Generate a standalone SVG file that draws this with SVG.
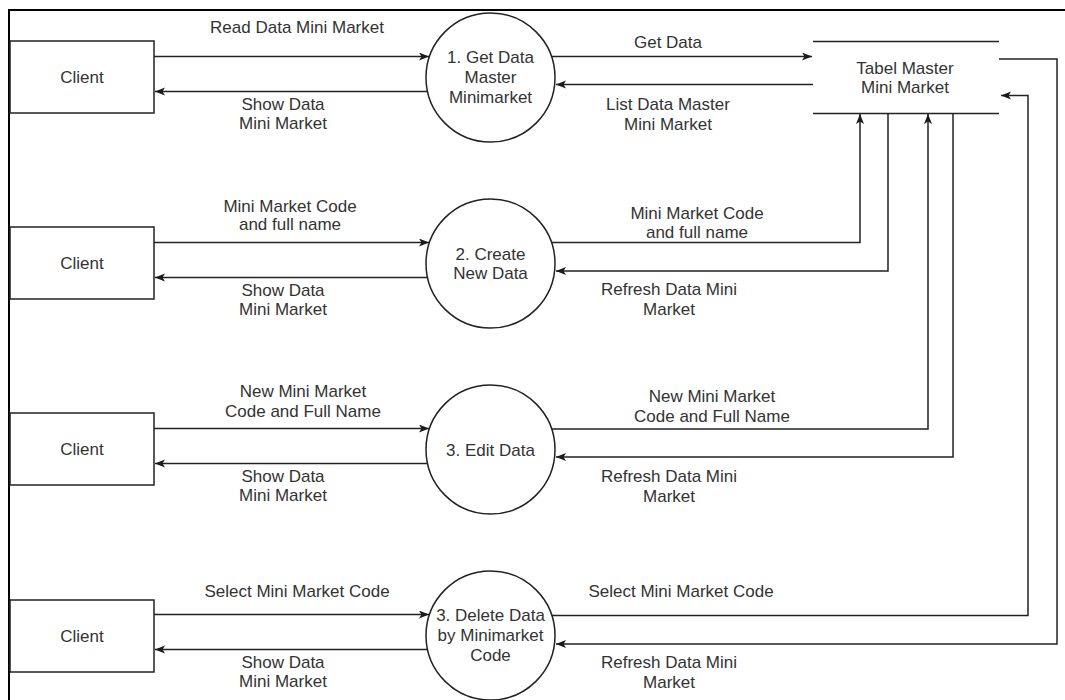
<svg xmlns="http://www.w3.org/2000/svg" width="1065" height="700" viewBox="0 0 1065 700">
<defs>
<marker id="arr" markerUnits="userSpaceOnUse" markerWidth="12" markerHeight="10" refX="10" refY="4" orient="auto">
<path d="M0,0 L10,4 L0,8 L2.5,4 Z" fill="#1a1a1a"/>
</marker>
<style>
.t{font-family:"Liberation Sans",Arial,sans-serif;font-size:17px;fill:#333;text-anchor:middle}
.box{fill:#fff;stroke:#222;stroke-width:1.5}
.ln{fill:none;stroke:#222;stroke-width:1.5}
.c{fill:none;stroke:#222;stroke-width:1.5;marker-end:url(#arr)}
</style>
</defs>
<rect width="1065" height="700" fill="#fff"/>
<path d="M9,700 V10 H1065" fill="none" stroke="#000" stroke-width="2"/>

<g id="connectors">
<path class="c" d="M154,56.5 H429"/>
<path class="c" d="M428,91.5 H155"/>
<path class="c" d="M552,56.5 H812"/>
<path class="c" d="M813,84.5 H556"/>

<path class="c" d="M154,242.5 H429"/>
<path class="c" d="M428,277.5 H155"/>
<path class="c" d="M552,242.5 H860 V114"/>
<path class="c" d="M888,113 V271 H556"/>

<path class="c" d="M154,428.5 H429"/>
<path class="c" d="M428,463.5 H155"/>
<path class="c" d="M552,429 H928 V114"/>
<path class="c" d="M953,113 V457 H556"/>

<path class="c" d="M154,614.5 H429"/>
<path class="c" d="M428,649.5 H155"/>
<path class="c" d="M552,615.5 H1028 V95.5 H1001"/>
<path class="c" d="M999,59 H1057 V644 H556"/>
</g>

<g id="labels">
<text class="t" x="297" y="33">Read Data Mini Market</text>
<text class="t" x="283" y="110">Show Data</text>
<text class="t" x="283" y="129">Mini Market</text>
<text class="t" x="668" y="48">Get Data</text>
<text class="t" x="668" y="110">List Data Master</text>
<text class="t" x="668" y="130">Mini Market</text>

<text class="t" x="290" y="212">Mini Market Code</text>
<text class="t" x="290" y="230">and full name</text>
<text class="t" x="283" y="296">Show Data</text>
<text class="t" x="283" y="315">Mini Market</text>
<text class="t" x="697" y="219">Mini Market Code</text>
<text class="t" x="697" y="238">and full name</text>
<text class="t" x="669" y="295">Refresh Data Mini</text>
<text class="t" x="669" y="315">Market</text>

<text class="t" x="303" y="397">New Mini Market</text>
<text class="t" x="303" y="417">Code and Full Name</text>
<text class="t" x="283" y="482">Show Data</text>
<text class="t" x="283" y="501">Mini Market</text>
<text class="t" x="712" y="402">New Mini Market</text>
<text class="t" x="712" y="422">Code and Full Name</text>
<text class="t" x="669" y="482">Refresh Data Mini</text>
<text class="t" x="669" y="502">Market</text>

<text class="t" x="297" y="597">Select Mini Market Code</text>
<text class="t" x="283" y="668">Show Data</text>
<text class="t" x="283" y="687">Mini Market</text>
<text class="t" x="681" y="597">Select Mini Market Code</text>
<text class="t" x="669" y="668">Refresh Data Mini</text>
<text class="t" x="669" y="688">Market</text>
</g>

<g id="client1"><rect class="box" x="10" y="41" width="144" height="72"/><text class="t" x="82" y="83">Client</text></g>
<g id="client2"><rect class="box" x="10" y="227" width="144" height="72"/><text class="t" x="82" y="269">Client</text></g>
<g id="client3"><rect class="box" x="10" y="413" width="144" height="72"/><text class="t" x="82" y="455">Client</text></g>
<g id="client4"><rect class="box" x="10" y="600" width="144" height="72"/><text class="t" x="82" y="642">Client</text></g>

<g id="p1"><ellipse class="box" cx="490.5" cy="77.5" rx="64.5" ry="64.5"/>
<text class="t" x="490.5" y="63">1. Get Data</text><text class="t" x="490.5" y="83">Master</text><text class="t" x="490.5" y="103">Minimarket</text></g>
<g id="p2"><ellipse class="box" cx="490.5" cy="263.5" rx="64.5" ry="64.5"/>
<text class="t" x="490.5" y="260">2. Create</text><text class="t" x="490.5" y="279">New Data</text></g>
<g id="p3"><ellipse class="box" cx="490.5" cy="449.5" rx="64.5" ry="64.5"/>
<text class="t" x="490.5" y="456">3. Edit Data</text></g>
<g id="p4"><ellipse class="box" cx="490.5" cy="635.5" rx="64.5" ry="64.5"/>
<text class="t" x="490.5" y="621">3. Delete Data</text><text class="t" x="490.5" y="641">by Minimarket</text><text class="t" x="490.5" y="661">Code</text></g>

<g id="store">
<path class="ln" d="M813,41.5 H999 M813,113.5 H999"/>
<text class="t" x="905" y="74">Tabel Master</text>
<text class="t" x="905" y="93">Mini Market</text>
</g>
</svg>
